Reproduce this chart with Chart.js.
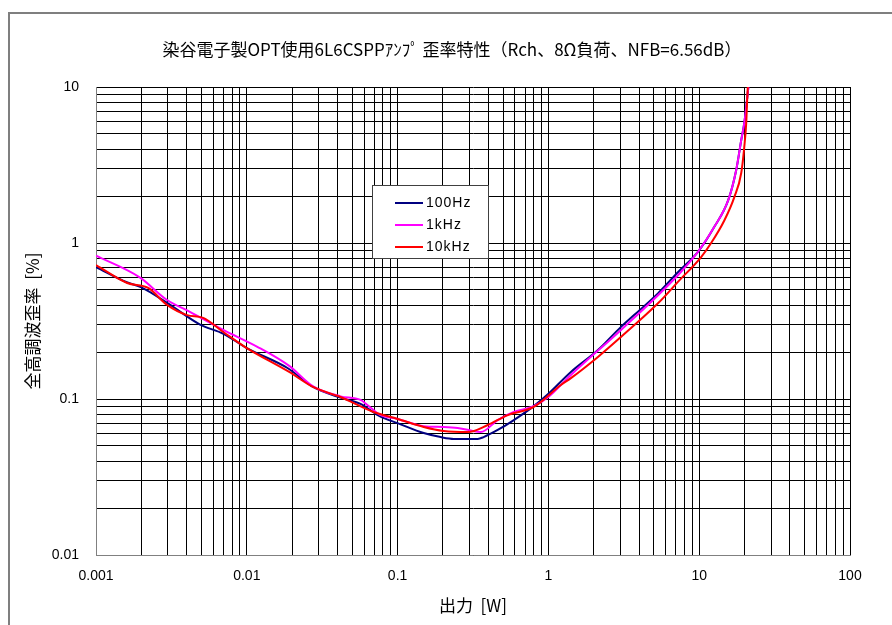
<!DOCTYPE html>
<html>
<head>
<meta charset="utf-8">
<script src="https://cdn.jsdelivr.net/npm/chart.js@4.4.1/dist/chart.umd.min.js"></script>
<style>
  body { margin: 0; background: #fff; }
  #wrap { width: 892px; height: 625px; }
</style>
</head>
<body>
<div id="wrap"><canvas id="thd"></canvas></div>
<script>
// 出力 [W] -> 歪率 [%]
var chartTitle = '染谷電子製OPT使用6L6CSPPｱﾝﾌﾟ 歪率特性（Rch、8Ω負荷、NFB=6.56dB）';
var seriesNames = ["100Hz", "1kHz", "10kHz"];
var seriesColors = ["#000080", "#ff00ff", "#ff0000"];

var x100 = [0.001, 0.0016, 0.002, 0.003, 0.0049, 0.007, 0.01, 0.0186, 0.0277, 0.0418, 0.0568, 0.077, 0.1, 0.149, 0.193, 0.236, 0.34, 0.372, 0.461, 0.59, 0.8, 1.0, 1.41, 2.13, 3.03, 3.7, 5.35, 7.25, 9.84, 12.6, 15.6, 17.6, 19.0, 19.9, 21.2];
var y100 = [0.70, 0.56, 0.52, 0.41, 0.30, 0.262, 0.212, 0.158, 0.119, 0.102, 0.093, 0.077, 0.070, 0.0605, 0.057, 0.0555, 0.0555, 0.057, 0.0633, 0.0733, 0.09, 0.108, 0.149, 0.206, 0.29, 0.345, 0.477, 0.652, 0.88, 1.27, 1.89, 2.94, 4.57, 5.87, 10];

var x1k = [0.001, 0.00196, 0.00296, 0.00422, 0.00698, 0.01175, 0.0191, 0.0277, 0.0418, 0.0568, 0.063, 0.077, 0.1, 0.149, 0.202, 0.25, 0.3, 0.356, 0.461, 0.59, 0.8, 1.0, 1.41, 3.03, 7.25, 9.84, 12.6, 15.6, 17.6, 19.0, 19.9, 21.2];
var y1k = [0.83, 0.60, 0.431, 0.361, 0.277, 0.216, 0.163, 0.12, 0.104, 0.0986, 0.0916, 0.079, 0.0745, 0.067, 0.0662, 0.0652, 0.063, 0.0614, 0.0733, 0.0826, 0.09, 0.103, 0.1426, 0.277, 0.624, 0.88, 1.27, 1.89, 2.94, 4.57, 5.87, 10];

var x10k = [0.001, 0.00161, 0.00222, 0.00296, 0.00402, 0.00514, 0.00698, 0.01, 0.0191, 0.0277, 0.0418, 0.0693, 0.1, 0.149, 0.202, 0.292, 0.396, 0.538, 0.8, 1.21, 1.41, 2.13, 3.03, 5.35, 7.25, 10.3, 12.0, 14.7, 17.1, 19.0, 19.9, 20.5, 20.8, 21.0];
var y10k = [0.722, 0.554, 0.515, 0.401, 0.345, 0.331, 0.269, 0.212, 0.149, 0.119, 0.103, 0.0826, 0.0745, 0.0662, 0.0624, 0.0614, 0.0681, 0.0789, 0.0889, 0.123, 0.136, 0.186, 0.25, 0.412, 0.565, 0.813, 1.0, 1.40, 1.97, 2.81, 4.12, 5.87, 8.26, 10];

var xTicks = [0.001, 0.01, 0.1, 1, 10, 100];
var xTickLabels = ["0.001", "0.01", "0.1", "1", "10", "100"];
var yTicks = [0.01, 0.1, 1, 10];
var yTickLabels = ["0.01", "0.1", "1", "10"];

function toPoints(xs, ys) {
  return xs.map(function (x, i) { return { x: x, y: ys[i] }; });
}

// 1,2,...,9 x 10^n grid
function gridValues(majors) {
  var out = [];
  for (var i = 0; i < majors.length - 1; i++) {
    for (var k = 1; k <= 9; k++) out.push(+(majors[i] * k).toPrecision(3));
  }
  out.push(majors[majors.length - 1]);
  return out;
}

function labelFor(majors, labels) {
  return function (v) {
    for (var i = 0; i < majors.length; i++) {
      if (Math.abs(v / majors[i] - 1) < 1e-6) return labels[i];
    }
    return '';
  };
}

var jp = "'Noto Sans CJK JP', sans-serif";
var num = "'Liberation Sans', sans-serif";

var framePlugin = {
  id: 'frame',
  beforeDraw: function (chart) {
    var ctx = chart.ctx;
    ctx.save();
    ctx.strokeStyle = '#7f7f7f';
    ctx.lineWidth = 2;
    ctx.beginPath();
    ctx.moveTo(9, chart.height);
    ctx.lineTo(9, 13);
    ctx.lineTo(chart.width, 13);
    ctx.stroke();
    // title
    ctx.fillStyle = '#000';
    ctx.font = '17px ' + jp;
    ctx.textAlign = 'center';
    ctx.textBaseline = 'middle';
    ctx.fillText(chartTitle, 452, 50);
    ctx.restore();
  }
};

var boxLegend = {
  id: 'boxLegend',
  afterDatasetsDraw: function (chart) {
    var ctx = chart.ctx, a = chart.chartArea;
    var left = a.left + 276, top = a.top + 98, w = 116, h = 73;
    ctx.save();
    ctx.fillStyle = '#fff';
    ctx.fillRect(left, top, w, h);
    ctx.strokeStyle = '#404040';
    ctx.lineWidth = 1;
    ctx.strokeRect(left + 0.5, top + 0.5, w, h);
    ctx.font = '14px ' + num;
    ctx.letterSpacing = '1px';
    ctx.textBaseline = 'middle';
    ctx.fillStyle = '#000';
    chart.data.datasets.forEach(function (ds, i) {
      var y = top + 18 + i * 22;
      ctx.strokeStyle = ds.borderColor;
      ctx.lineWidth = 2;
      ctx.beginPath();
      ctx.moveTo(left + 23, y);
      ctx.lineTo(left + 51, y);
      ctx.stroke();
      ctx.fillText(ds.label, left + 54, y);
    });
    ctx.restore();
  }
};

var datasets = [[x100, y100], [x1k, y1k], [x10k, y10k]].map(function (s, i) {
  return {
    label: seriesNames[i],
    data: toPoints(s[0], s[1]),
    borderColor: seriesColors[i],
    backgroundColor: seriesColors[i],
    borderWidth: 2,
    pointRadius: 0,
    cubicInterpolationMode: 'monotone',
    fill: false,
    order: 3 - i
  };
});

var config = {
  type: 'line',
  data: { datasets: datasets },
  options: {
    responsive: false,
    animation: false,
    devicePixelRatio: 1,
    layout: { padding: { left: 0, right: 42, top: 87, bottom: 0 } },
    plugins: {
      legend: { display: false },
      tooltip: { enabled: false },
      title: { display: false }
    },
    scales: {
      x: {
        type: 'logarithmic',
        min: 0.001,
        max: 100,
        afterBuildTicks: function (scale) {
          scale.ticks = gridValues(xTicks).map(function (v) { return { value: v }; });
        },
        afterFit: function (scale) { scale.height = 70; },
        ticks: {
          autoSkip: false,
          maxRotation: 0,
          padding: 13,
          color: '#000',
          font: { family: num, size: 14 },
          callback: labelFor(xTicks, xTickLabels)
        },
        grid: { color: '#000', lineWidth: 1, drawTicks: false },
        border: { color: '#808080', width: 1 },
        title: {
          display: true,
          text: '出力  [W]',
          color: '#000',
          font: { family: jp, size: 17 },
          padding: { top: 0, bottom: 9 }
        }
      },
      y: {
        type: 'logarithmic',
        min: 0.01,
        max: 10,
        afterBuildTicks: function (scale) {
          scale.ticks = gridValues(yTicks).map(function (v) { return { value: v }; });
        },
        afterFit: function (scale) { scale.width = 96; },
        ticks: {
          autoSkip: false,
          padding: 17,
          color: '#000',
          font: { family: num, size: 14 },
          callback: labelFor(yTicks, yTickLabels)
        },
        grid: { color: '#000', lineWidth: 1, drawTicks: false },
        border: { color: '#808080', width: 1 },
        title: {
          display: true,
          text: '全高調波歪率  [%]',
          color: '#000',
          font: { family: jp, size: 17 },
          padding: { top: 22, bottom: 0 }
        }
      }
    }
  },
  plugins: [framePlugin, boxLegend]
};

window.onload = function () {
  var cv = document.getElementById('thd');
  cv.width = 892;
  cv.height = 625;
  window.thdChart = new Chart(cv, config);
};
</script>
</body>
</html>
